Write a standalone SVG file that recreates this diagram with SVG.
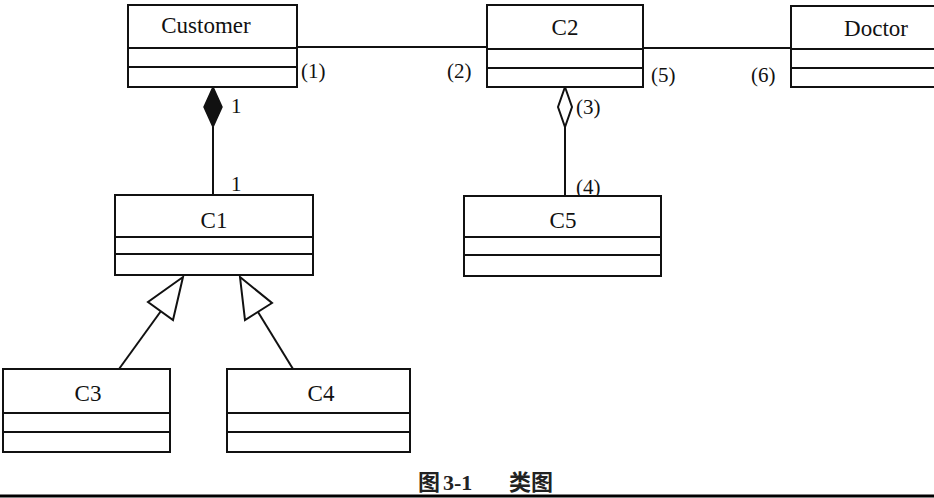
<svg xmlns="http://www.w3.org/2000/svg" width="934" height="498" viewBox="0 0 934 498">
<style>
.box{fill:#fff;stroke:#111;stroke-width:2}
.div{stroke:#111;stroke-width:2}
.name{font-family:"Liberation Serif",serif;font-size:23px;fill:#111;text-anchor:middle}
.lbl{font-family:"Liberation Serif",serif;font-size:21px;fill:#111}
.ln{stroke:#111;stroke-width:2;fill:none}
.cap{font-family:"Liberation Serif","Noto Sans CJK SC",sans-serif;font-weight:bold;font-size:22px;fill:#222}
</style>
<rect width="934" height="498" fill="#fff"/>
<g id="connectors">
<line class="ln" x1="297" y1="47" x2="487" y2="47"/>
<line class="ln" x1="643" y1="48" x2="791" y2="48"/>
<line class="ln" x1="213" y1="127" x2="213" y2="195"/>
<polygon points="213,87 222,107 213,127 204,107" fill="#111" stroke="#111" stroke-width="1.5"/>
<line class="ln" x1="565" y1="127" x2="565" y2="196"/>
<polygon points="565,87 572,107 565,127 558,107" fill="#fff" stroke="#111" stroke-width="2"/>
<line class="ln" x1="119" y1="369" x2="161" y2="311"/>
<polygon points="183,277 173,320 148,302" fill="#fff" stroke="#111" stroke-width="2"/>
<line class="ln" x1="293" y1="369" x2="258" y2="312"/>
<polygon points="240,277 272,303 245,320" fill="#fff" stroke="#111" stroke-width="2"/>
<text class="lbl" x="301" y="78">(1)</text>
<text class="lbl" x="447" y="78">(2)</text>
<text class="lbl" x="651" y="82">(5)</text>
<text class="lbl" x="751" y="82">(6)</text>
<text class="lbl" x="231" y="113">1</text>
<text class="lbl" x="231" y="191">1</text>
<text class="lbl" x="576" y="114">(3)</text>
<text class="lbl" x="576" y="194">(4)</text>
</g>
<g id="Customer">
<rect class="box" x="128" y="5" width="169" height="82"/>
<line class="div" x1="128" y1="48" x2="297" y2="48"/>
<line class="div" x1="128" y1="67" x2="297" y2="67"/>
<text class="name" x="206" y="33">Customer</text>
</g>
<g id="C2">
<rect class="box" x="487" y="5" width="156" height="82"/>
<line class="div" x1="487" y1="49" x2="643" y2="49"/>
<line class="div" x1="487" y1="68" x2="643" y2="68"/>
<text class="name" x="565" y="35">C2</text>
</g>
<g id="Doctor">
<rect class="box" x="791" y="6" width="160" height="81"/>
<line class="div" x1="791" y1="49" x2="934" y2="49"/>
<line class="div" x1="791" y1="68" x2="934" y2="68"/>
<text class="name" x="876" y="36">Doctor</text>
</g>
<g id="C1">
<rect class="box" x="115" y="195" width="198" height="80"/>
<line class="div" x1="115" y1="237" x2="313" y2="237"/>
<line class="div" x1="115" y1="254" x2="313" y2="254"/>
<text class="name" x="214" y="228">C1</text>
</g>
<g id="C5">
<rect class="box" x="464" y="196" width="197" height="80"/>
<line class="div" x1="464" y1="237" x2="661" y2="237"/>
<line class="div" x1="464" y1="255" x2="661" y2="255"/>
<text class="name" x="563" y="228">C5</text>
</g>
<g id="C3">
<rect class="box" x="3" y="369" width="167" height="83"/>
<line class="div" x1="3" y1="413" x2="170" y2="413"/>
<line class="div" x1="3" y1="432" x2="170" y2="432"/>
<text class="name" x="88" y="401">C3</text>
</g>
<g id="C4">
<rect class="box" x="227" y="369" width="183" height="83"/>
<line class="div" x1="227" y1="413" x2="410" y2="413"/>
<line class="div" x1="227" y1="432" x2="410" y2="432"/>
<text class="name" x="321" y="401">C4</text>
</g>
<text class="cap" x="418" y="490">图</text>
<text class="cap" x="443" y="490" font-size="24">3-1</text>
<text class="cap" x="509" y="490" font-size="24">类图</text>
<line x1="0" y1="496" x2="934" y2="496" stroke="#000" stroke-width="3"/>
</svg>
